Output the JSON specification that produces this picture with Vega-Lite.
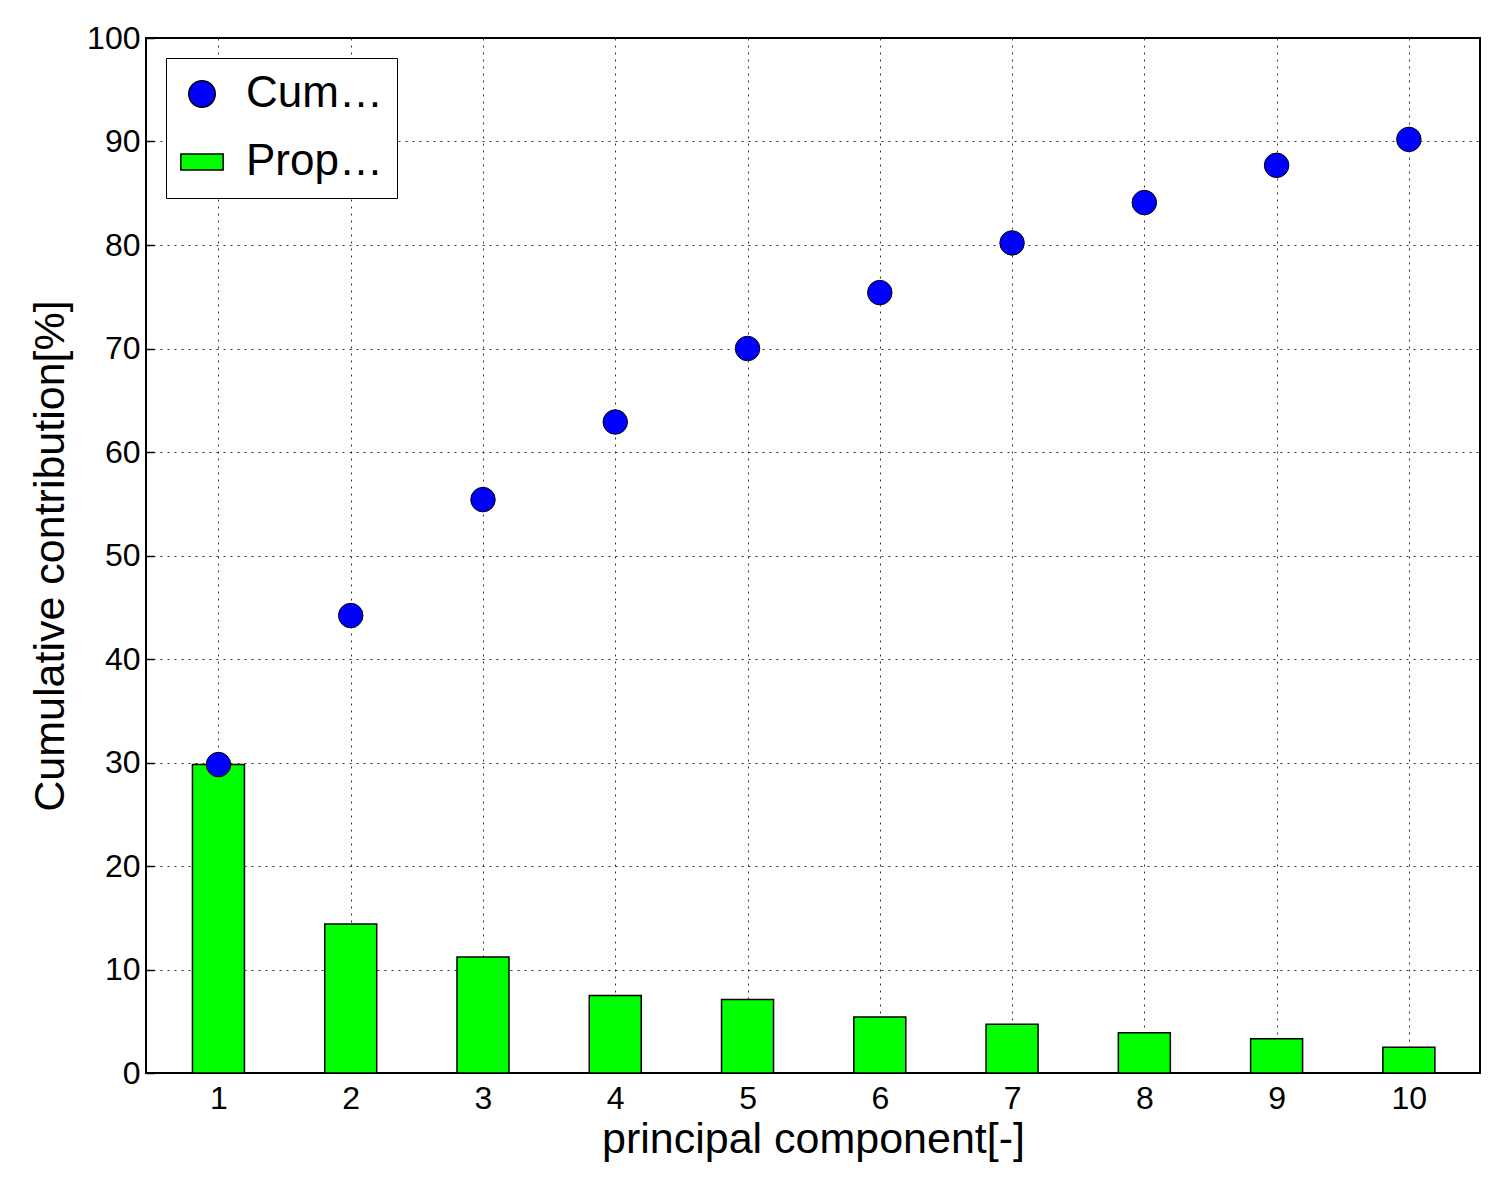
{
  "$schema": "https://vega.github.io/schema/vega-lite/v6.json",
  "width": 1334,
  "height": 1035,
  "autosize": "none",
  "padding": {"left": 146, "top": 38, "right": 20, "bottom": 110},
  "background": "white",
  "config": {
    "font": "Liberation Sans",
    "view": {"stroke": "black", "strokeWidth": 2},
    "axis": {
      "grid": true, "gridColor": "black", "gridDash": [2, 5], "gridOpacity": 0.8, "gridWidth": 1,
      "domain": false, "tickColor": "black", "tickSize": -8, "tickWidth": 1.5,
      "labelFont": "Liberation Sans", "labelFontSize": 32, "labelColor": "black",
      "titleFont": "Liberation Sans", "titleFontSize": 43, "titleFontWeight": "normal", "titleColor": "black"
    }
  },
  "data": {"values": [
    {"pc": 1, "prop": 29.8, "cum": 29.8},
    {"pc": 2, "prop": 14.4, "cum": 44.2},
    {"pc": 3, "prop": 11.2, "cum": 55.4},
    {"pc": 4, "prop": 7.5, "cum": 62.9},
    {"pc": 5, "prop": 7.1, "cum": 70.0},
    {"pc": 6, "prop": 5.4, "cum": 75.4},
    {"pc": 7, "prop": 4.7, "cum": 80.2},
    {"pc": 8, "prop": 3.9, "cum": 84.1},
    {"pc": 9, "prop": 3.3, "cum": 87.7},
    {"pc": 10, "prop": 2.5, "cum": 90.2}
  ]},
  "encoding": {
    "x": {"field": "pc", "type": "quantitative", "scale": {"domain": [0.49, 10.5], "nice": false},
      "axis": {"values": [1,2,3,4,5,6,7,8,9,10], "title": "principal component[-]", "labelPadding": 18, "titlePadding": 4}}
  },
  "layer": [
    {
      "mark": {"type": "bar", "width": 52, "stroke": "black", "strokeWidth": 1.5, "fill": "#00ff00"},
      "encoding": {
        "y": {"field": "prop", "type": "quantitative", "scale": {"domain": [0, 100], "nice": false},
          "axis": {"tickCount": 10, "title": "Cumulative contribution[%]", "labelPadding": 14, "titlePadding": 14}}
      }
    },
    {
      "mark": {"type": "point", "filled": true, "size": 600, "stroke": "black", "strokeWidth": 1, "opacity": 1},
      "transform": [{"calculate": "'Cumulative contribution'", "as": "series"}],
      "encoding": {
        "y": {"field": "cum", "type": "quantitative"},
        "shape": {"field": "series", "type": "nominal", "title": null,
          "scale": {"domain": ["Cumulative contribution", "Propotion"], "range": ["circle", "M-1.6,-0.6H1.6V0.6H-1.6Z"]}},
        "fill": {"field": "series", "type": "nominal", "title": null,
          "scale": {"domain": ["Cumulative contribution", "Propotion"], "range": ["#0000ff", "#00ff00"]},
          "legend": {
            "orient": "top-left", "offset": 20,
            "strokeColor": "black", "fillColor": "white", "padding": 14,
            "labelFontSize": 44, "labelColor": "black", "labelFont": "Liberation Sans", "labelOffset": 22,
            "symbolSize": 700, "symbolStrokeColor": "black", "symbolStrokeWidth": 1.5,
            "symbolOpacity": 1, "rowPadding": 24
          }
        }
      }
    }
  ]
}
